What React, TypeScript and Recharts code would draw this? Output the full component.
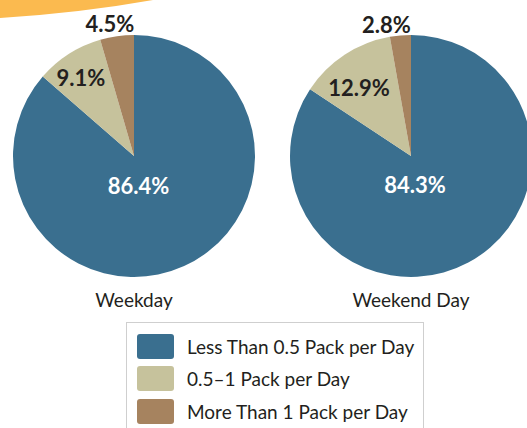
import { PieChart, Pie, Cell, Legend } from 'recharts'

// categories + values
const CATEGORIES = ['Less Than 0.5 Pack per Day', '0.5–1 Pack per Day', 'More Than 1 Pack per Day']
const WEEKDAY = [86.4, 9.1, 4.5]
const WEEKEND = [84.3, 12.9, 2.8]
const PIE_TITLES = ['Weekday', 'Weekend Day']

const COLORS = ['#3A6F8F', '#C6C29C', '#A6835F']
const TEXT = '#231F20'
const FONT = 'Lato, "Open Sans", sans-serif'

const W = 527
const H = 428
const R = 121
const CENTERS = [134, 411]
const CY = 156

// label offsets from pie centre, per pie per slice
const LABEL_OFFSETS = [
    [[4.5, 29], [-53, -79], [-24, -133]],
    [[4, 28], [-52, -69], [-24.5, -132]],
]

const toData = (vals: number[]) => CATEGORIES.map((name, i) => ({ name, value: vals[i] }))
const SERIES = [toData(WEEKDAY), toData(WEEKEND)]

const makeLabel = (pieIdx: number) => ({ cx, cy, index, value }: any) => {
    const [dx, dy] = LABEL_OFFSETS[pieIdx][index]
    return (
        <text x={cx + dx} y={cy + dy} textAnchor="middle" dominantBaseline="central"
            fill={index === 0 ? '#fff' : TEXT} fontSize={22} fontWeight={700} fontFamily={FONT}>
            {`${value.toFixed(1)}%`}
        </text>
    )
}

const LegendBox = () => (
    <div style={{ width: 298, height: 120, border: '1px solid #cfcfcf', boxSizing: 'border-box', paddingTop: 7, paddingLeft: 10, fontFamily: FONT }}>
        {CATEGORIES.map((c, i) => (
            <div key={c} style={{ display: 'flex', alignItems: 'center', height: 32.5 }}>
                <div style={{ width: 37, height: 25, background: COLORS[i], borderRadius: 3, marginRight: 13 }} />
                <span style={{ fontSize: 19, color: TEXT }}>{c}</span>
            </div>
        ))}
    </div>
)

export default function App() {
    return (
        <div style={{ position: 'absolute', left: 0, top: 0, width: W, height: H, overflow: 'hidden', background: '#fff' }}>
            <svg width={170} height={30} style={{ position: 'absolute', left: 0, top: 0 }}>
                <path d="M0,0 L160,0 L153,0 Q80,13 0,18 Z" fill="#FBBA4F" />
            </svg>
            <PieChart width={W} height={H} margin={{ top: 0, right: 0, bottom: 0, left: 0 }}
                style={{ position: 'absolute', left: 0, top: 0 }}>
                {SERIES.map((data, p) => (
                    <Pie key={p} data={data} dataKey="value" nameKey="name" cx={CENTERS[p]} cy={CY}
                        outerRadius={R} innerRadius={0} startAngle={90} endAngle={-270}
                        stroke="none" labelLine={false} label={makeLabel(p)} isAnimationActive={false}>
                        {data.map((_, i) => <Cell key={i} fill={COLORS[i]} />)}
                    </Pie>
                ))}
                <Legend content={<LegendBox />} wrapperStyle={{ position: 'absolute', left: 126, top: 322, width: 298 }} />
            </PieChart>
            {PIE_TITLES.map((t, i) => (
                <div key={t} style={{ position: 'absolute', left: CENTERS[i] - 80, width: 160, top: 288, textAlign: 'center', fontFamily: FONT, fontSize: 19, color: TEXT }}>
                    {t}
                </div>
            ))}
        </div>
    )
}
